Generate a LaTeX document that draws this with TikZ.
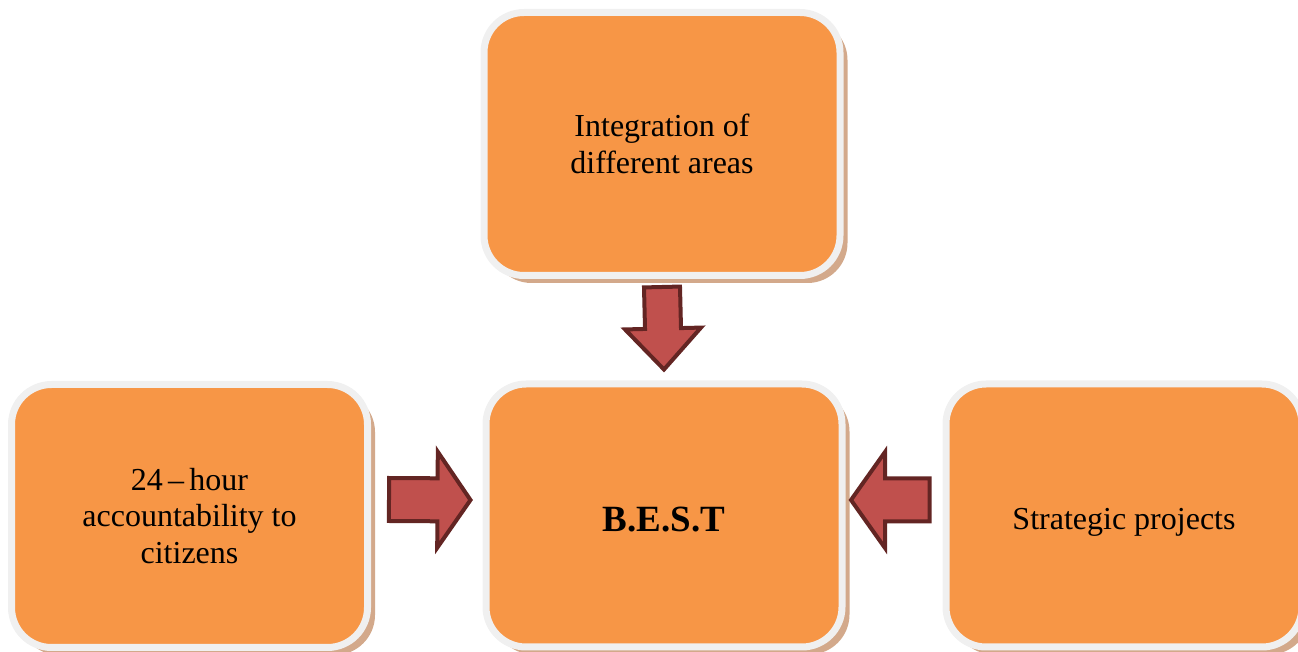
\documentclass[tikz,border=0pt]{standalone}
\usepackage{fontspec}
\setmainfont{Liberation Serif}
\usetikzlibrary{calc,shadows}
\definecolor{boxorange}{HTML}{F79646}
\definecolor{boxframe}{HTML}{F0F0F0}
\definecolor{boxshadow}{HTML}{D3A98B}
\definecolor{arrowfill}{HTML}{C0504D}
\definecolor{arrowline}{HTML}{632523}
\tikzset{
  box/.style={rectangle, rounded corners=20pt, minimum width=178pt,
    minimum height=131.5pt, fill=boxorange, draw=boxframe, line width=3.5pt,
    outer sep=0pt, inner sep=0pt, align=center,
    font=\fontsize{16}{18.25}\selectfont,
    drop shadow={shadow xshift=3.75pt, shadow yshift=-3.75pt,
      fill=boxshadow, opacity=1}},
  blockarrow/.style={fill=arrowfill, draw=arrowline, line width=2pt,
    line join=miter},
}
% lower a single line of text without changing its box
\newcommand{\lowered}[2]{\raisebox{-#1}[\height][\depth]{#2}}
% #1 tail, #2 tip, #3 half shaft width, #4 half head width, #5 head length
\newcommand{\blockarrow}[5]{%
  \coordinate (#1-neck) at ($(#2)!#5!(#1)$);
  \draw[blockarrow] ($(#1)!#3!90:(#2)$)
    -- ($(#1-neck)!#3!-90:(#1)$) -- ($(#1-neck)!#4!-90:(#1)$)
    -- (#2)
    -- ($(#1-neck)!#4!90:(#1)$) -- ($(#1-neck)!#3!90:(#1)$)
    -- ($(#1)!#3!-90:(#2)$) -- cycle;
}
\begin{document}
\begin{tikzpicture}[x=0.5pt, y=-0.5pt]
  \useasboundingbox (0,0) rectangle (1298,652);
  \clip (0,0) rectangle (1298,652);

  % the four boxes
  \node[box] (integ) at (662,144) {Integration of\\different areas};
  \node[box] (accnt) at (189.5,516) {24\,–\,hour\\accountability to\\citizens};
  \node[box, font=\bfseries\fontsize{18.5}{22}\selectfont] (best) at (664,515.5) {\lowered{2pt}{B.E.S.T}};
  \node[box] (strat) at (1124,515.5) {\lowered{3.5pt}{Strategic projects}};

  % arrow end points
  \coordinate (dtail) at ($(integ.south)+(0,11.5)$);
  \coordinate (dtip)  at ($(best.north)+(0,-14.5)$);
  \coordinate (rtail) at ($(accnt.east)+(21.5,-16.5)$);
  \coordinate (rtip)  at ($(best.west)+(-15.5,-15.5)$);
  \coordinate (ltail) at ($(strat.west)+(-16.5,-15.5)$);
  \coordinate (ltip)  at ($(best.east)+(9,-15.5)$);

  % block arrows into the centre box
  \blockarrow{dtail}{dtip}{9pt}{19pt}{20.5pt}
  \blockarrow{rtail}{rtip}{10.75pt}{24pt}{16.5pt}
  \blockarrow{ltail}{ltip}{10.75pt}{24pt}{17pt}
\end{tikzpicture}
\end{document}
